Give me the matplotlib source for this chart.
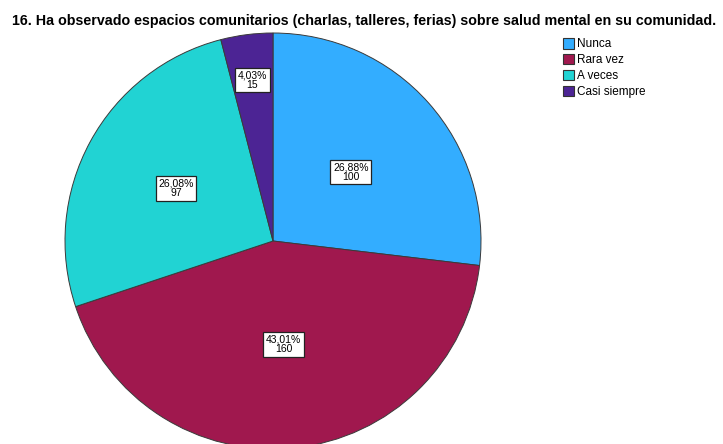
import numpy as np
import matplotlib

matplotlib.use("Agg")
import matplotlib.pyplot as plt
from matplotlib.patches import Patch

plt.rcParams["font.family"] = ["Liberation Sans", "DejaVu Sans"]

TITLE = "16. Ha observado espacios comunitarios (charlas, talleres, ferias) sobre salud mental en su comunidad."
categories = ["Nunca", "Rara vez", "A veces", "Casi siempre"]
counts = [100, 160, 97, 15]
percents = ["26,88%", "43,01%", "26,08%", "4,03%"]
colors = ["#33adff", "#a0184e", "#21d3d3", "#4c2494"]
label_radius = [0.5, 0.5, 0.53, 0.78]  # small slice label pushed outward

fig = plt.figure(figsize=(7.23, 4.44), dpi=100)
# pie centred at (273, 241) px, radius 208 px
ax = fig.add_axes([65 / 723, (444 - 449) / 444, 416 / 723, 416 / 444])
wedges, _ = ax.pie(
    counts,
    colors=colors,
    startangle=90,
    counterclock=False,
    radius=1,
    wedgeprops=dict(edgecolor="#3a3a3a", linewidth=0.7),
)
ax.set_xlim(-1, 1)
ax.set_ylim(-1, 1)
ax.set_aspect("auto")
ax.axis("off")

for w, pct, n, r in zip(wedges, percents, counts, label_radius):
    mid = np.deg2rad((w.theta1 + w.theta2) / 2)
    ax.text(
        r * np.cos(mid), r * np.sin(mid), f"{pct}\n{n}",
        ha="center", va="center", fontsize=7.5, linespacing=0.9,
        bbox=dict(boxstyle="square,pad=0.25", fc="white", ec="#222222", lw=0.9),
    )

fig.text(364 / 723, 1 - 21 / 444, TITLE, ha="center", va="center",
         fontsize=10.3, fontweight="bold")

handles = [Patch(facecolor=c, edgecolor="#333333", linewidth=0.8) for c in colors]
fig.legend(handles, categories, loc="upper left",
           bbox_to_anchor=(563 / 723, 1 - 38 / 444), frameon=False,
           fontsize=8.5, handlelength=0.9, handleheight=1.0, handletextpad=0.25,
           labelspacing=0.3, borderaxespad=0, borderpad=0)

fig.savefig("out.png", dpi=100)
